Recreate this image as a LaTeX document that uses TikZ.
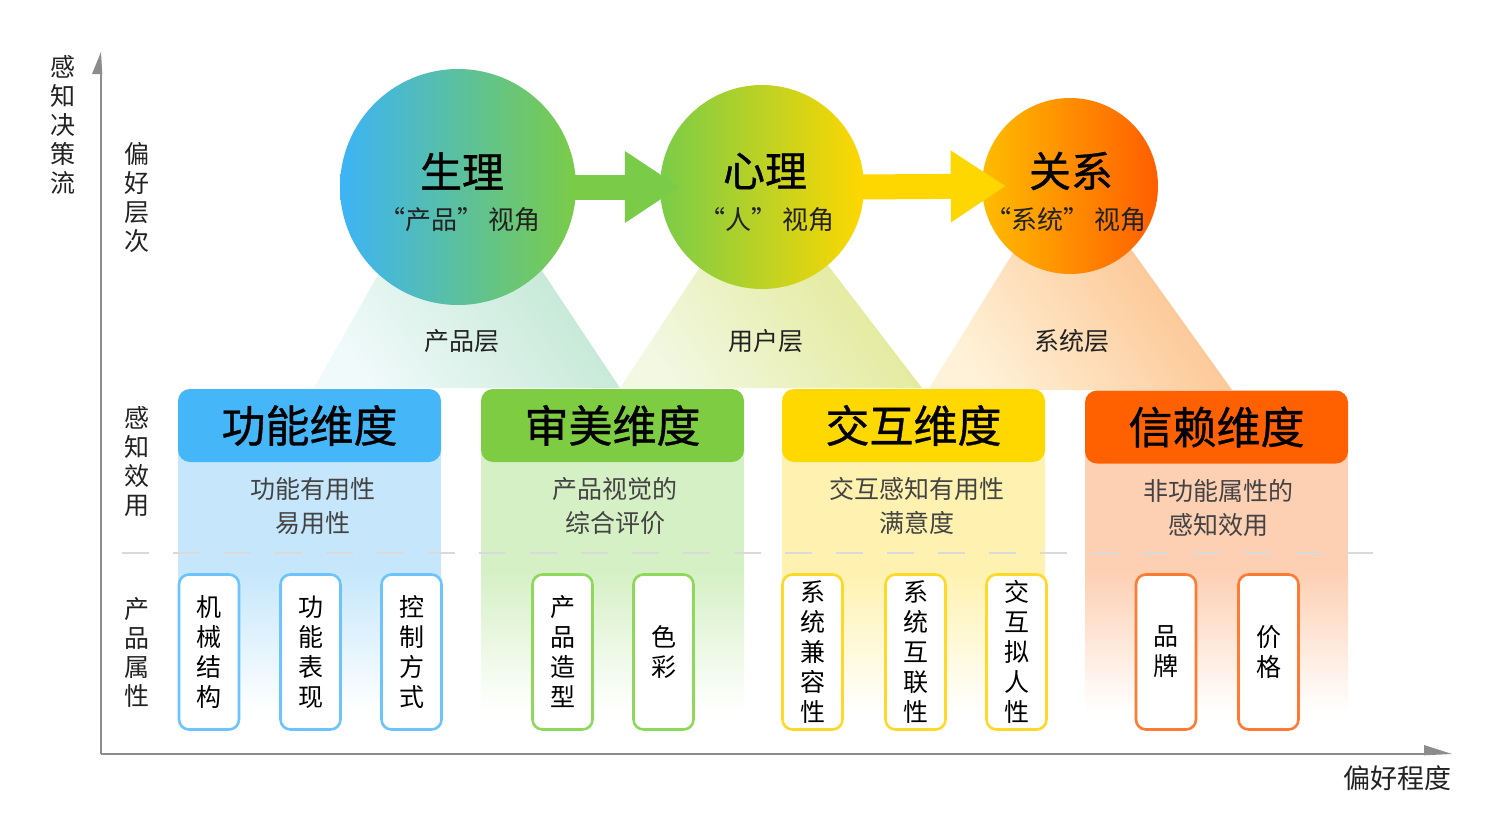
\documentclass[tikz,border=0pt]{standalone}
\usepackage{fontspec}
\newfontfamily\cjk{Noto Sans CJK SC}
\newfontfamily\cjkm[FakeBold=0.8]{Noto Sans CJK SC}
\usetikzlibrary{arrows.meta,calc}
\definecolor{axisgray}{HTML}{8C8C8C}
\definecolor{dashgray}{HTML}{DADADA}
\definecolor{txt}{HTML}{222222}
\definecolor{blueH}{HTML}{45B6F8}
\definecolor{blueP}{HTML}{C6E7FB}
\definecolor{blueB}{HTML}{6CC4FF}
\definecolor{greenH}{HTML}{7DCC42}
\definecolor{greenP}{HTML}{D6F0C6}
\definecolor{greenB}{HTML}{8ED95C}
\definecolor{yellowH}{HTML}{FFD800}
\definecolor{yellowP}{HTML}{FFF2B0}
\definecolor{yellowB}{HTML}{FFD82A}
\definecolor{orangeH}{HTML}{FF6100}
\definecolor{orangeP}{HTML}{FDD0B4}
\definecolor{orangeB}{HTML}{FF7B33}
\definecolor{cA}{HTML}{3CB4F6}
\definecolor{cB}{HTML}{7ACC48}
\definecolor{cC}{HTML}{FFD700}
\definecolor{cD}{HTML}{FFBC00}
\definecolor{cE}{HTML}{FF5E00}
\definecolor{k1t}{HTML}{C2E7D4}
\definecolor{k1b}{HTML}{F0FAFA}
\definecolor{k2t}{HTML}{E2E996}
\definecolor{k2b}{HTML}{F2F8E2}
\definecolor{k3t}{HTML}{FCC28E}
\definecolor{k3b}{HTML}{FFF2D8}
\tikzset{
  big/.style={font=\cjkm\fontsize{42}{46}\selectfont, text=black, inner sep=0pt},
  sub/.style={font=\cjk\fontsize{26}{30}\selectfont, text=txt, inner sep=0pt},
  lab/.style={font=\cjk\fontsize{25}{29}\selectfont, text=txt, inner sep=0pt, align=center},
  desc/.style={font=\cjk\fontsize{25}{34}\selectfont, text=txt!85, inner sep=0pt, align=center},
  head/.style={rounded corners=12pt, minimum width=263pt, minimum height=73pt, inner sep=0pt,
     font=\cjkm\fontsize{44}{48}\selectfont, text=black},
  attr/.style={draw, line width=2.6pt, fill=white, rounded corners=10pt, minimum width=60pt,
     minimum height=155pt, inner sep=0pt, align=center, font=\cjk\fontsize{25}{30}\selectfont, text=black},
  flow/.style={line width=25pt, -{Triangle[length=55pt,width=68pt]}},
  axis/.style={axisgray, line width=2.6pt},
  cone/.style={shading angle=-55},
}
\begin{document}
\begin{tikzpicture}[x=1pt,y=-1pt]
\useasboundingbox (0,0) rectangle (1510,827);
\fill[white] (0,0) rectangle (1510,827);

% cones
\shade[top color=k1t, bottom color=k1b, cone] (392,250) -- (528,250) -- (620,388) -- (314,388) -- cycle;
\shade[top color=k2t, bottom color=k2b, cone] (708,255) -- (820,255) -- (922,388) -- (620,388) -- cycle;
\shade[top color=k3t, bottom color=k3b, cone] (1018,245) -- (1128,245) -- (1232,390) -- (928,390) -- cycle;

% panels
\fill[blueP] (178,420) rectangle (441,572);
\shade[top color=blueP, bottom color=white] (178,572) rectangle (441,712);
\fill[greenP] (481,420) rectangle (744,572);
\shade[top color=greenP, bottom color=white] (481,572) rectangle (744,712);
\fill[yellowP] (782,420) rectangle (1045,572);
\shade[top color=yellowP, bottom color=white] (782,572) rectangle (1045,712);
\fill[orangeP] (1085,420) rectangle (1348,572);
\shade[top color=orangeP, bottom color=white] (1085,572) rectangle (1348,712);

% dashed separator
\draw[dashgray, line width=1.5pt, dash pattern=on 27pt off 24pt] (122,553) -- (1385,553);

% axes
\coordinate (o) at (101,754);
\coordinate (ytop) at (101,52);
\coordinate (xend) at (1452,754);
\draw[axis] (o) -- (101,70);
\fill[axisgray] (ytop) -- (92,74) -- (102.3,74) -- cycle;
\draw[axis] (o) -- (1430,754);
\fill[axisgray] (xend) -- (1424,745) -- (1424,755.3) -- cycle;

\node[lab] (yl) at (63,125) {感\\知\\决\\策\\流};
\node[lab] (l1) at (137,198) {偏\\好\\层\\次};
\node[lab] (l2) at (137,462) {感\\知\\效\\用};
\node[lab] (l3) at (137,652) {产\\品\\属\\性};
\node[lab, font=\cjk\fontsize{27}{30}\selectfont] (xl) at (1397,778) {偏好程度};

% circles
\node[circle, minimum size=236pt, inner sep=0pt, left color=cA, right color=cB] (c1) at (458,187) {};
\node[circle, minimum size=204pt, inner sep=0pt, left color=cB, right color=cC] (c2) at (762,187) {};
\node[circle, minimum size=176pt, inner sep=0pt, left color=cD, right color=cE] (c3) at (1070,186) {};

\draw[flow, cB] ($(c1.east)+(-6,0)$) -- ($(c2.west)+(20,0)$);
\draw[flow, cC] ($(c2.east)+(-6,0)$) -- ($(c3.west)+(24,0)$);

\node[big] (t1) at (462,171) {生理};
\node[sub] (s1) at (460,220) {“产品”\,视角};
\node[big] (t2) at (765,171) {心理};
\node[sub] (s2) at (767,220) {“人”\,视角};
\node[big] (t3) at (1071,171) {关系};
\node[sub] (s3) at (1066,220) {“系统”\,视角};

\node[lab] (p1) at (462,341) {产品层};
\node[lab] (p2) at (766,341) {用户层};
\node[lab] (p3) at (1072,341) {系统层};

% headers
\node[head, fill=blueH] (h1) at (309.5,425.5) {功能维度};
\node[head, fill=greenH] (h2) at (612.5,425.5) {审美维度};
\node[head, fill=yellowH] (h3) at (913.5,425.5) {交互维度};
\node[head, fill=orangeH] (h4) at (1216.5,427) {信赖维度};

\node[desc] (d1) at (313,506) {功能有用性\\易用性};
\node[desc] (d2) at (615,506) {产品视觉的\\综合评价};
\node[desc] (d3) at (917,506) {交互感知有用性\\满意度};
\node[desc] (d4) at (1218,508) {非功能属性的\\感知效用};

% attribute boxes
\node[attr, draw=blueB] (a1) at (209,652) {机\\械\\结\\构};
\node[attr, draw=blueB] (a2) at (310.5,652) {功\\能\\表\\现};
\node[attr, draw=blueB] (a3) at (411.5,652) {控\\制\\方\\式};
\node[attr, draw=greenB] (a4) at (562.5,652) {产\\品\\造\\型};
\node[attr, draw=greenB] (a5) at (663.5,652) {色\\彩};
\node[attr, draw=yellowB] (a6) at (812.5,652) {系\\统\\兼\\容\\性};
\node[attr, draw=yellowB] (a7) at (915.5,652) {系\\统\\互\\联\\性};
\node[attr, draw=yellowB] (a8) at (1016.5,652) {交\\互\\拟\\人\\性};
\node[attr, draw=orangeB] (a9) at (1166,652) {品\\牌};
\node[attr, draw=orangeB] (a10) at (1268.5,652) {价\\格};
\end{tikzpicture}
\end{document}
